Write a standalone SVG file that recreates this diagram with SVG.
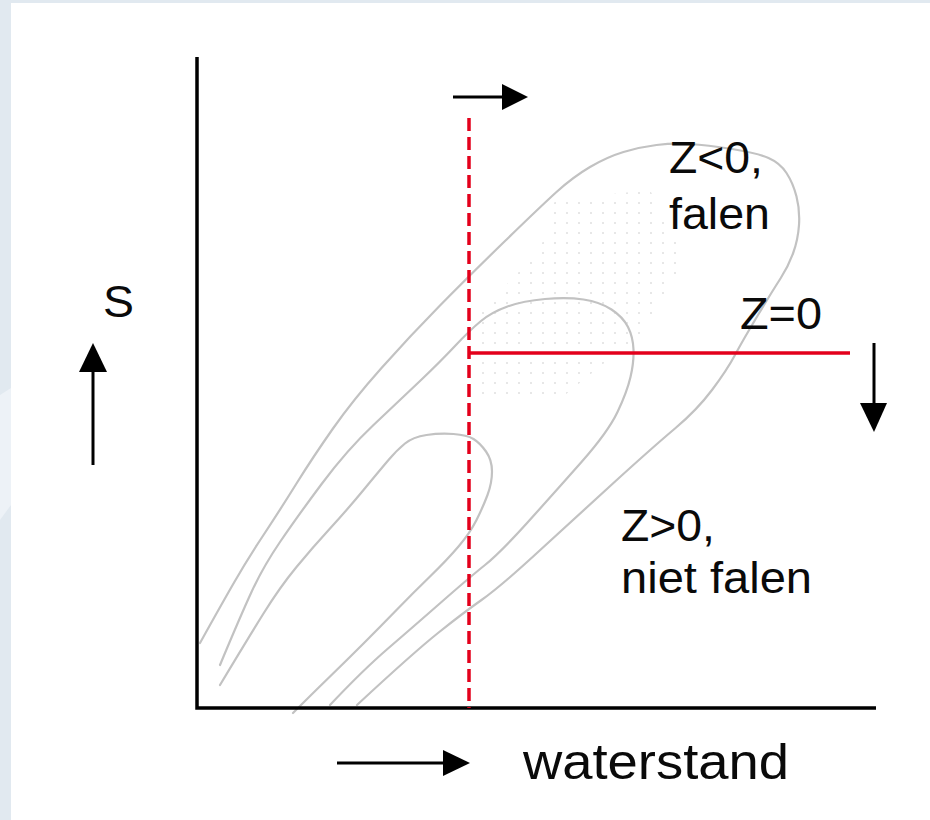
<svg xmlns="http://www.w3.org/2000/svg" width="930" height="820" viewBox="0 0 930 820">
  <defs>
    <style>
      .contour { fill: none; stroke: #c2c2c2; stroke-width: 2.2; stroke-linecap: round; stroke-linejoin: round; }
      .axis { fill: none; stroke: #000; stroke-width: 3.5; }
      .shaft { fill: none; stroke: #000; stroke-width: 3; }
      .head { fill: #000; }
      .red { fill: none; stroke: #e3001b; stroke-width: 3.5; }
      .lbl { font-family: "Liberation Sans", Arial, sans-serif; font-size: 44px; fill: #0a0a0a; }
    </style>
    <pattern id="dots" width="12" height="10" patternUnits="userSpaceOnUse">
      <circle cx="3" cy="3" r="0.9" fill="#dcdcdc"/>
    </pattern>
    <clipPath id="blob">
      <path d="M555,200 L650,190 L685,260 L645,330 L565,395 L480,395 L472,320 L540,250 Z"/>
    </clipPath>
  </defs>

  <!-- background -->
  <rect x="0" y="0" width="930" height="820" fill="#ffffff"/>
  <rect x="0" y="0" width="930" height="3" fill="#e1e9f0"/>
  <rect x="0" y="0" width="11" height="820" fill="#e1e9f0"/>
  <polygon points="0,395 11,388 11,505 0,520" fill="#edf2f7"/>

  <!-- stippled area -->
  <rect x="460" y="180" width="240" height="230" fill="url(#dots)" clip-path="url(#blob)"/>

  <!-- contours -->
  <g id="contours">
    <path id="contour-outer" class="contour" d="M200,643 Q220,607 233.5,583.5 Q247,560 263.5,535 Q280,510 296.5,483.5 Q313,457 333,428.5 Q353,400 381.5,368 Q410,336 439.5,306 Q469,276 504.5,241.5 Q540,207 556.5,192 Q573,177 590,167 Q607,157 623.5,152 Q640,147 656.5,145 Q673,143 690,144 Q707,145 732,149 Q757,153 768.5,158 Q780,163 786.5,173 Q793,183 796.5,196.5 Q800,210 799,225 Q798,240 793,253.5 Q788,267 780.5,278.5 Q773,290 758,315 Q743,340 735,355 Q727,370 712,390 Q697,410 675,428.5 Q653,447 614,482.5 Q575,518 537.5,552.5 Q500,587 481.5,600 Q463,613 438,633 Q413,653 357,705"/>
    <path id="contour-middle" class="contour" d="M220,665 Q240,617 251.5,592 Q263,567 280,542 Q297,517 322,483.5 Q347,450 373.5,425 Q400,400 420,381 Q440,362 455,346 Q470,330 481,321 Q492,312 507.5,306.5 Q523,301 545,299 Q567,297 583.5,299.5 Q600,302 611.5,309.5 Q623,317 628,327 Q633,337 633.5,349.5 Q634,362 630.5,377 Q627,392 617.5,412 Q608,432 581.5,462 Q555,492 527.5,522.5 Q500,553 485,565 Q470,577 441.5,602 Q413,627 388,648.5 Q363,670 330,705"/>
    <path id="contour-inner" class="contour" d="M220,685 Q247,640 263.5,613.5 Q280,587 296.5,567 Q313,547 330,528.5 Q347,510 363.5,490 Q380,470 388.5,460 Q397,450 405,443.5 Q413,437 426.5,435 Q440,433 453.5,434 Q467,435 473.5,439 Q480,443 486,451.5 Q492,460 492,471.5 Q492,483 487.5,495 Q483,507 476.5,520 Q470,533 458.5,546.5 Q447,560 430,576.5 Q413,593 396.5,610 Q380,627 363.5,643.5 Q347,660 330,676.5 Q313,693 293,713"/>
  </g>

  <!-- axes -->
  <g id="axes">
    <path class="axis" d="M197,57 L197,708 L876,708"/>
  </g>

  <!-- red limit lines -->
  <g id="limits">
    <line id="dashed-limit" class="red" x1="469" y1="118" x2="469" y2="708" stroke-dasharray="13,6"/>
    <line id="z0-line" class="red" x1="469" y1="353" x2="850" y2="353"/>
  </g>

  <!-- arrows -->
  <g id="arrows">
    <g id="arrow-top">
      <line class="shaft" x1="453" y1="97" x2="504" y2="97"/>
      <polygon class="head" points="502,84 528,97 502,110"/>
    </g>
    <g id="arrow-down">
      <line class="shaft" x1="874" y1="343" x2="874" y2="405"/>
      <polygon class="head" points="860,403 887,403 874,432"/>
    </g>
    <g id="arrow-s">
      <line class="shaft" x1="93" y1="465" x2="93" y2="370"/>
      <polygon class="head" points="79,372 107,372 93,343"/>
    </g>
    <g id="arrow-water">
      <line class="shaft" x1="337" y1="763" x2="445" y2="763"/>
      <polygon class="head" points="443,750 470,763 443,776"/>
    </g>
  </g>

  <!-- labels -->
  <g id="labels">
    <text id="lbl-s" class="lbl" x="103" y="317" textLength="31" lengthAdjust="spacingAndGlyphs">S</text>
    <text id="lbl-zneg" class="lbl" x="669" y="173" textLength="94" lengthAdjust="spacingAndGlyphs">Z&lt;0,</text>
    <text id="lbl-falen" class="lbl" x="669" y="229" textLength="101" lengthAdjust="spacingAndGlyphs">falen</text>
    <text id="lbl-z0" class="lbl" x="740" y="329" textLength="82" lengthAdjust="spacingAndGlyphs">Z=0</text>
    <text id="lbl-zpos" class="lbl" x="621" y="541" textLength="94" lengthAdjust="spacingAndGlyphs">Z&gt;0,</text>
    <text id="lbl-niet" class="lbl" x="621" y="593" textLength="191" lengthAdjust="spacingAndGlyphs">niet falen</text>
    <text id="lbl-water" class="lbl" x="523" y="779" style="font-size:50px" textLength="266" lengthAdjust="spacingAndGlyphs">waterstand</text>
  </g>
</svg>
